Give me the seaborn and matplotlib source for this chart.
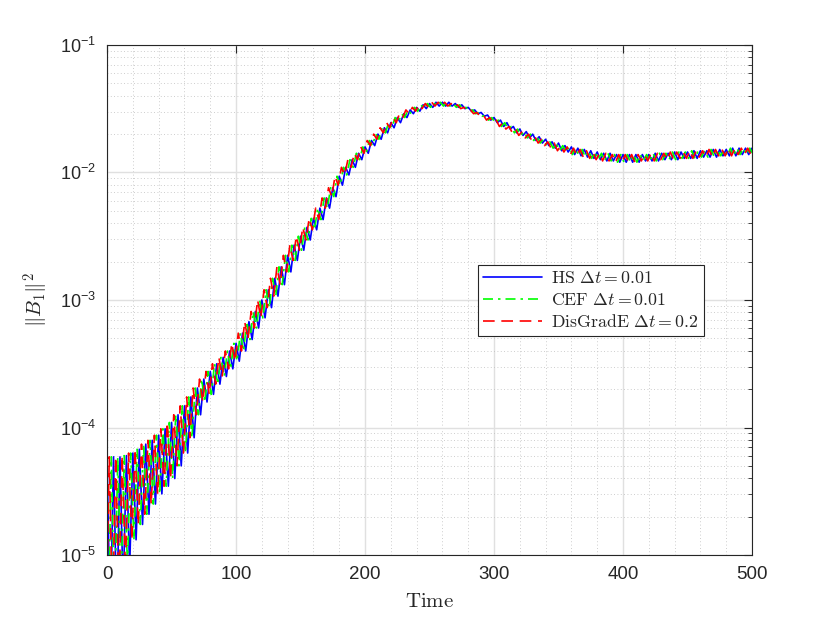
import numpy as np
import pandas as pd
import matplotlib
matplotlib.use("Agg")
import matplotlib.pyplot as plt
import seaborn as sns
from matplotlib.ticker import MultipleLocator, LogLocator, NullFormatter

# peaks of the oscillation (log10 of ||B1||^2), read every 5 time units, t = 0..505
peak_log10 = [
    -4.25, -4.23, -4.23, -4.22, -4.20, -4.17, -4.13, -4.10, -4.06, -4.01,
    -3.96, -3.90, -3.83, -3.76, -3.69, -3.62, -3.56, -3.50, -3.45, -3.40,
    -3.34, -3.26, -3.17, -3.09, -3.00, -2.92, -2.83, -2.74, -2.65, -2.57,
    -2.50, -2.43, -2.36, -2.28, -2.20, -2.12, -2.03, -1.96, -1.90, -1.85,
    -1.80, -1.75, -1.70, -1.65, -1.61, -1.57, -1.54, -1.51, -1.49, -1.47,
    -1.46, -1.45, -1.45, -1.45, -1.46, -1.47, -1.49, -1.51, -1.53, -1.55,
    -1.57, -1.59, -1.61, -1.64, -1.66, -1.68, -1.70, -1.72, -1.74, -1.76,
    -1.77, -1.79, -1.80, -1.81, -1.82, -1.83, -1.84, -1.85, -1.85, -1.86,
    -1.86, -1.86, -1.86, -1.86, -1.86, -1.85, -1.85, -1.85, -1.84, -1.84,
    -1.84, -1.83, -1.83, -1.83, -1.82, -1.82, -1.82, -1.81, -1.81, -1.81,
    -1.81, -1.81,
]
# troughs, read every 5 time units, t = 2.5..502.5
trough_log10 = [
    -5.60, -5.50, -5.30, -5.10, -4.88, -4.76, -4.68, -4.60, -4.52, -4.46,
    -4.40, -4.30, -4.20, -4.08, -3.90, -3.80, -3.74, -3.66, -3.60, -3.54,
    -3.48, -3.40, -3.31, -3.22, -3.14, -3.06, -2.97, -2.88, -2.78, -2.69,
    -2.61, -2.53, -2.45, -2.37, -2.28, -2.19, -2.10, -2.02, -1.96, -1.90,
    -1.85, -1.79, -1.74, -1.69, -1.65, -1.61, -1.57, -1.54, -1.52, -1.50,
    -1.49, -1.48, -1.48, -1.48, -1.49, -1.50, -1.52, -1.54, -1.56, -1.59,
    -1.61, -1.64, -1.66, -1.69, -1.71, -1.73, -1.75, -1.77, -1.79, -1.81,
    -1.83, -1.84, -1.86, -1.87, -1.88, -1.89, -1.90, -1.91, -1.91, -1.92,
    -1.92, -1.92, -1.92, -1.91, -1.91, -1.91, -1.90, -1.90, -1.90, -1.89,
    -1.89, -1.89, -1.88, -1.88, -1.88, -1.87, -1.87, -1.87, -1.86, -1.86,
    -1.86,
]

peak_t = np.arange(0, 505.1, 5.0)
trough_t = peak_t[:-1] + 2.5

# the three schemes are the same signal with a small phase lag
schemes = [r"$\mathrm{HS}\ \Delta t = 0.01$",
           r"$\mathrm{CEF}\ \Delta t = 0.01$",
           r"$\mathrm{DisGradE}\ \Delta t = 0.2$"]
phase_lag = [0.0, -1.7, -3.3]
colors = ["#0000ff", "#00ff00", "#ff0000"]
styles = ["-", (0, (6, 3, 1.5, 3)), (0, (7, 4))]

sns.set_theme(style="white")
plt.rcParams["font.family"] = ["Liberation Sans", "DejaVu Sans"]
plt.rcParams["mathtext.fontset"] = "custom"
plt.rcParams["mathtext.rm"] = "Liberation Sans"
plt.rcParams["mathtext.it"] = "Liberation Sans:italic"
plt.rcParams["mathtext.bf"] = "Liberation Sans:bold"

axcol = "#262626"
fig = plt.figure(figsize=(8.3, 6.23), dpi=100)
ax = fig.add_axes([0.129, 0.109, 0.777, 0.819])

for name, lag, c, ls in zip(schemes, phase_lag, colors, styles):
    t = np.empty(len(peak_t) + len(trough_t))
    v = np.empty_like(t)
    t[0::2] = peak_t + lag
    t[1::2] = trough_t + lag
    v[0::2] = 10.0 ** np.array(peak_log10)
    v[1::2] = 10.0 ** np.array(trough_log10)
    df = pd.DataFrame({"time": t, "energy": v})
    sns.lineplot(data=df, x="time", y="energy", ax=ax, color=c, linestyle=ls,
                 lw=1.2, label=name, estimator=None, sort=False)

ax.set_yscale("log")
ax.set_xlim(0, 500)
ax.set_ylim(1e-5, 1e-1)

ax.xaxis.set_major_locator(MultipleLocator(100))
ax.xaxis.set_minor_locator(MultipleLocator(20))
ax.set_yticks([1e-5, 1e-4, 1e-3, 1e-2, 1e-1])
ax.set_yticklabels([r"$10^{-5}$", r"$10^{-4}$", r"$10^{-3}$", r"$10^{-2}$", r"$10^{-1}$"])
ax.yaxis.set_minor_locator(LogLocator(base=10, subs=np.arange(2, 10), numticks=20))
ax.yaxis.set_minor_formatter(NullFormatter())

ax.grid(True, which="major", color="#e0e0e0", lw=1.0, ls="-")
ax.grid(True, which="minor", color="#bdbdbd", lw=0.6, ls=(0, (1, 3)))
ax.set_axisbelow(True)

ax.tick_params(which="both", direction="in", top=True, right=True, colors=axcol)
ax.tick_params(axis="y", labelsize=13, pad=8)
ax.tick_params(axis="x", labelsize=13.5, pad=8)
ax.tick_params(which="major", length=6, width=0.8)
ax.tick_params(which="minor", length=3, width=0.6)
ax.tick_params(axis="x", which="minor", length=0)
for s in ax.spines.values():
    s.set_color(axcol)
    s.set_linewidth(0.8)

ax.set_xlabel(r"$\mathrm{Time}$", fontsize=15, color=axcol, math_fontfamily="cm", labelpad=6)
ax.set_ylabel(r"$\|B_1\|^2$", fontsize=15, color=axcol, math_fontfamily="cm", labelpad=6)

leg = ax.legend(loc="upper left", bbox_to_anchor=(0.575, 0.569), borderaxespad=0,
                fancybox=False, edgecolor=axcol, framealpha=1, fontsize=12.8,
                handlelength=3.3, handletextpad=0.5, borderpad=0.3, labelspacing=0.28)
leg.get_frame().set_linewidth(0.8)
for txt in leg.get_texts():
    txt.set_math_fontfamily("cm")
    txt.set_color(axcol)

fig.savefig("out.png", dpi=100, facecolor="white")
